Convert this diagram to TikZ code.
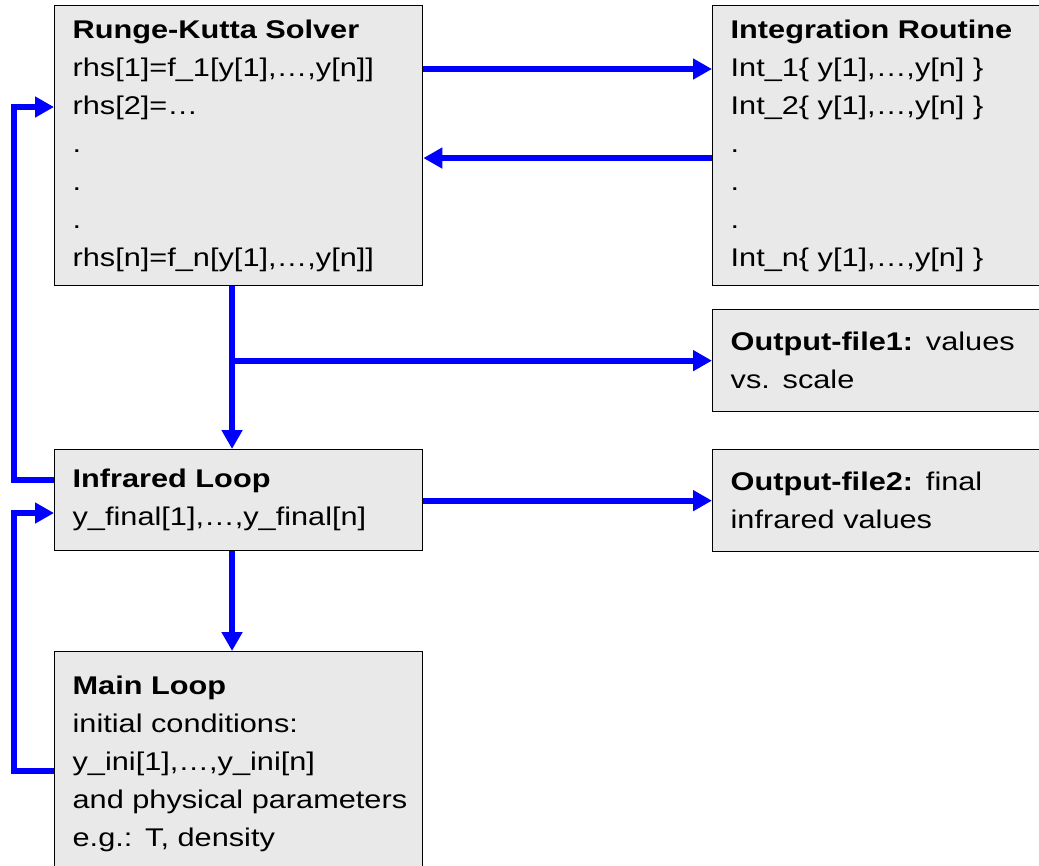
\documentclass[tikz,border=0pt]{standalone}
\usepackage{fontspec}
\setmainfont{Liberation Sans}[FakeStretch=1.2]
\usepackage{xcolor}
\usepackage{tikz}
\usetikzlibrary{
    arrows.meta,
    positioning,
    calc
}

\definecolor{flowblue}{RGB}{0,0,255}
\definecolor{boxgray}{RGB}{233,233,233}

\begin{document}
\begin{tikzpicture}[
    x=0.025cm,
    y=-0.025cm,
    block/.style={
        draw=black,
        fill=boxgray,
        line width=0.9pt,
        rectangle,
        anchor=north west,
        minimum width=9.2cm,
        text width=8.3cm,
        inner xsep=0.45cm,
        inner ysep=0.2cm,
        align=left,
        font=\fontsize{18.2pt}{27pt}\selectfont
    },
    flow/.style={
        draw=flowblue,
        line width=4.3pt,
        -{Triangle[length=13.5pt, width=14.2pt]}
    },
    feed/.style={
        flow,
        rounded corners=0pt
    }
]

\useasboundingbox (0,0) rectangle (1039,866);

% ============================================================
% BLOCKS
% ============================================================

\node[block, minimum height=7cm]
    (rk) at (54,5)
{
\textbf{Runge-Kutta Solver}\\
rhs[1]=f\_1[y[1],…,y[n]]\\
rhs[2]=…\\
.\\
.\\
.\\
rhs[n]=f\_n[y[1],…,y[n]]
};

\node[block, minimum height=7cm]
    (int) at (712,5)
{
\textbf{Integration Routine}\\
Int\_1\{ y[1],…,y[n] \}\\
Int\_2\{ y[1],…,y[n] \}\\
.\\
.\\
.\\
Int\_n\{ y[1],…,y[n] \}
};

\node[block, minimum height=2.55cm]
    (out1) at (712,309)
{
\textbf{Output-file1:} values\\
vs. scale
};

\node[block, minimum height=2.525cm]
    (ir) at (54,449)
{
\textbf{Infrared Loop}\\
y\_final[1],…,y\_final[n]
};

\node[block, minimum height=2.55cm]
    (out2) at (712,449)
{
\textbf{Output-file2:} final\\
infrared values
};

\node[block, minimum height=5.6cm]
    (main) at (54,651)
{
\textbf{Main Loop}\\
initial conditions:\\
y\_ini[1],…,y\_ini[n]\\
\mbox{and physical parameters}\\
e.g.: T, density
};

% ============================================================
% CONNECTORS
% ============================================================

% Solver <-> integration routine
\draw[flow]
    ([yshift=-1.6cm]rk.north east) -- ([yshift=-1.6cm]int.north west);

\draw[flow]
    ([yshift=-3.825cm]int.north west) -- ([yshift=-3.825cm]rk.north east);

% Solver down to infrared loop
\draw[flow]
    ([xshift=4.45cm]rk.south west) -- ([xshift=4.45cm]ir.north west);

% Branch to first output file
\draw[flow]
    ([xshift=4.45cm]rk.south west |- out1.west) -- (out1.west);

% Infrared loop to second output file
\draw[flow]
    (ir.east |- out2.west) -- (out2.west);

% Infrared loop down to main loop
\draw[flow]
    ([xshift=4.45cm]ir.south west) -- ([xshift=4.45cm]main.north west);

% Feedback loops on the left
\draw[feed]
    ([yshift=-0.775cm]ir.north west) -- ++(-1cm,0)
    |- ([yshift=-2.55cm]rk.north west);

\draw[feed]
    ([yshift=-3cm]main.north west) -- ++(-1cm,0)
    |- ([yshift=-1.6cm]ir.north west);

\end{tikzpicture}
\end{document}
